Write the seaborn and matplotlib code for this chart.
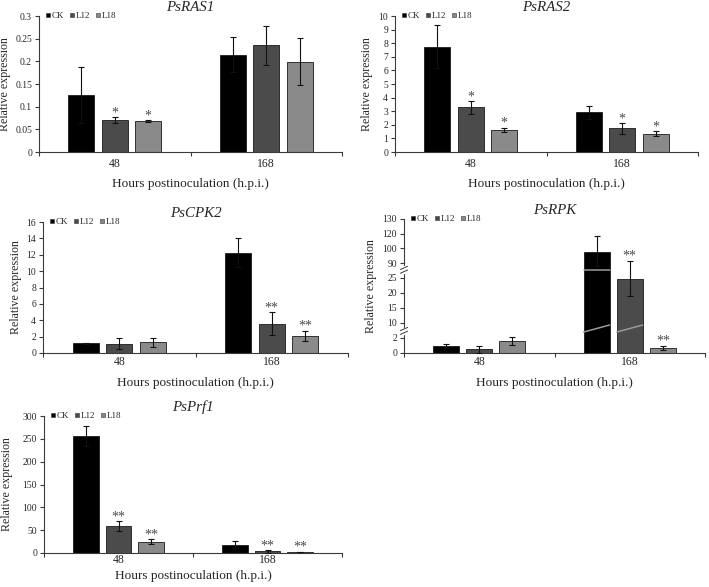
import numpy as np
import pandas as pd
import matplotlib
matplotlib.use("Agg")
import matplotlib.pyplot as plt
from matplotlib.lines import Line2D
import seaborn as sns

# ---------------- data ----------------
TIMES = ["48", "168"]
LINES = ["CK", "L12", "L18"]
COLORS = ["#000000", "#4b4b4b", "#8a8a8a"]

# PsRAS1
ras1_ck = [0.126, 0.215]
ras1_l12 = [0.070, 0.236]
ras1_l18 = [0.068, 0.199]
ras1_err_ck = [0.062, 0.039]
ras1_err_l12 = [0.007, 0.043]
ras1_err_l18 = [0.0015, 0.052]
ras1_sig = [["", ""], ["*", ""], ["*", ""]]

# PsRAS2
ras2_ck = [7.75, 2.92]
ras2_l12 = [3.28, 1.74]
ras2_l18 = [1.62, 1.35]
ras2_err_ck = [1.57, 0.49]
ras2_err_l12 = [0.46, 0.38]
ras2_err_l18 = [0.15, 0.18]
ras2_sig = [["", ""], ["*", "*"], ["*", "*"]]

# PsCPK2
cpk2_ck = [1.2, 12.27]
cpk2_l12 = [1.13, 3.56]
cpk2_l18 = [1.34, 2.1]
cpk2_err_ck = [0.08, 1.74]
cpk2_err_l12 = [0.65, 1.4]
cpk2_err_l18 = [0.55, 0.6]
cpk2_sig = [["", ""], ["", "**"], ["", "**"]]

# PsRPK (broken axis)
rpk_ck = [0.96, 97.5]
rpk_l12 = [0.48, 24.8]
rpk_l18 = [1.56, 0.70]
rpk_err_lo_ck = [0.26, 20.0]
rpk_err_hi_ck = [0.26, 20.0]
rpk_err_lo_l12 = [0.43, 5.7]
rpk_err_hi_l12 = [0.43, 66.8]
rpk_err_lo_l18 = [0.54, 0.3]
rpk_err_hi_l18 = [0.54, 0.22]
rpk_sig = [["", ""], ["", "**"], ["", "**"]]
rpk_ticks = [0, 2, 10, 15, 20, 25, 90, 100, 120, 130]
rpk_tick_pos = [0, 1.05, 2.05, 3.07, 4.08, 5.1, 6.1, 7.1, 8.1, 9.1]

# PsPrf1
prf1_ck = [257, 18.2]
prf1_l12 = [59, 3.6]
prf1_l18 = [24.8, 2.2]
prf1_err_ck = [22, 8]
prf1_err_l12 = [10, 3]
prf1_err_l18 = [5, 1]
prf1_sig = [["", ""], ["**", "**"], ["**", "**"]]

# ---------------- style ----------------
sns.set_theme(style="ticks")
plt.rcParams["font.family"] = ["Liberation Serif", "DejaVu Serif"]
plt.rcParams["axes.edgecolor"] = "#3a3a3a"
plt.rcParams["axes.linewidth"] = 0.8

W, H = 709, 587
fig = plt.figure(figsize=(W / 100, H / 100), dpi=100)


def rect(x0, x1, ytop, ybot):
    return [x0 / W, 1 - ybot / H, (x1 - x0) / W, (ybot - ytop) / H]


def panel(box, title, vals, errs_lo, errs_hi, sig, ylim, yticks,
          ylab_px, tick_pad, xlab_pad, scale=None):
    x0, x1, ytop, ybot = box
    ax = fig.add_axes(rect(x0, x1, ytop, ybot))
    rows = []
    for ln, v in zip(LINES, vals):
        for t, val in zip(TIMES, v):
            rows.append({"time": t, "line": ln, "value": val})
    df = pd.DataFrame(rows)
    sns.barplot(data=df, x="time", y="value", hue="line", order=TIMES,
                hue_order=LINES, palette=COLORS, saturation=1, errorbar=None,
                width=0.66, gap=0.22, edgecolor="#1a1a1a", linewidth=0.6,
                legend=False, ax=ax)
    if scale is not None:
        ax.set_yscale("function", functions=scale)
    bar_containers = list(ax.containers)
    for i, cont in enumerate(bar_containers):
        for j, bar in enumerate(cont):
            x = bar.get_x() + bar.get_width() / 2
            h = bar.get_height()
            ax.errorbar([x], [h], yerr=[[errs_lo[i][j]], [errs_hi[i][j]]],
                        fmt="none", ecolor="#111111", elinewidth=0.8,
                        capsize=2, capthick=0.8, zorder=5)
            if sig[i][j]:
                ax.annotate(sig[i][j], (x, h + errs_hi[i][j]),
                            xytext=(0, -1.5), textcoords="offset points",
                            ha="center", va="bottom", fontsize=10,
                            color="#4a4a4a")
    ax.set_xlim(-0.5, 1.5)
    ax.set_ylim(*ylim)
    ax.set_yticks(yticks)
    ax.set_yticklabels([f"{t:g}" for t in yticks])
    ax.set_xticks([-0.5, 0.5, 1.5], minor=True)
    ax.tick_params(axis="x", which="major", length=0, labelsize=8.5,
                   pad=tick_pad)
    ax.tick_params(axis="x", which="minor", length=3, width=0.8,
                   color="#3a3a3a", direction="out")
    ax.tick_params(axis="y", length=3, width=0.8, color="#3a3a3a",
                   labelsize=6.9, pad=2, direction="out")
    sns.despine(ax=ax)
    ax.set_xlabel("Hours postinoculation (h.p.i.)", fontsize=9.5,
                  labelpad=xlab_pad)
    ax.set_ylabel("Relative expression", fontsize=8.6)
    ax.yaxis.set_label_coords((ylab_px - x0) / (x1 - x0), 0.5)
    ax.set_title(title, fontstyle="italic", fontsize=10.8, pad=3.3)
    handles = [Line2D([], [], marker="s", linestyle="none", markersize=3.4,
                      markerfacecolor=c, markeredgecolor="#333333",
                      markeredgewidth=0.4) for c in COLORS]
    ax.legend(handles, LINES, loc="center left", bbox_to_anchor=(0.02, 1.0),
              ncol=3, frameon=False, fontsize=6.5, handlelength=0.6,
              handletextpad=0.15, columnspacing=0.55, borderpad=0,
              borderaxespad=0)
    return ax, bar_containers


panel((39, 342, 16, 152), "PsRAS1",
      [ras1_ck, ras1_l12, ras1_l18],
      [ras1_err_ck, ras1_err_l12, ras1_err_l18],
      [ras1_err_ck, ras1_err_l12, ras1_err_l18],
      ras1_sig, (0, 0.3), np.round(np.arange(0, 0.31, 0.05), 2),
      ylab_px=11, tick_pad=4, xlab_pad=6)

panel((395, 698, 16, 152), "PsRAS2",
      [ras2_ck, ras2_l12, ras2_l18],
      [ras2_err_ck, ras2_err_l12, ras2_err_l18],
      [ras2_err_ck, ras2_err_l12, ras2_err_l18],
      ras2_sig, (0, 10), np.arange(0, 11, 1),
      ylab_px=373, tick_pad=4, xlab_pad=6)

panel((43, 348, 222, 353), "PsCPK2",
      [cpk2_ck, cpk2_l12, cpk2_l18],
      [cpk2_err_ck, cpk2_err_l12, cpk2_err_l18],
      [cpk2_err_ck, cpk2_err_l12, cpk2_err_l18],
      cpk2_sig, (0, 16), np.arange(0, 17, 2),
      ylab_px=22, tick_pad=2.5, xlab_pad=6)


def fwd(y):
    return np.interp(y, rpk_ticks, rpk_tick_pos)


def inv(y):
    return np.interp(y, rpk_tick_pos, rpk_ticks)


ax_rpk, rpk_bars = panel((404, 705, 219, 353), "PsRPK",
                         [rpk_ck, rpk_l12, rpk_l18],
                         [rpk_err_lo_ck, rpk_err_lo_l12, rpk_err_lo_l18],
                         [rpk_err_hi_ck, rpk_err_hi_l12, rpk_err_hi_l18],
                         rpk_sig, (0, 130), rpk_ticks,
                         ylab_px=377, tick_pad=2.5, xlab_pad=6,
                         scale=(fwd, inv))

# break decorations on the bars and on the y axis
UPPER_BREAK = 61
LOWER_BREAK = (5.0, 8.8)
ck_bar = rpk_bars[0][1]
l12_bar = rpk_bars[1][1]
bx0, bx1 = ck_bar.get_x(), ck_bar.get_x() + ck_bar.get_width()
ax_rpk.plot([bx0, bx1], [UPPER_BREAK, UPPER_BREAK], color="#9a9a9a", lw=1.1,
            zorder=4)
for b in (ck_bar, l12_bar):
    bx0, bx1 = b.get_x(), b.get_x() + b.get_width()
    ax_rpk.plot([bx0, bx1], list(LOWER_BREAK), color="#9a9a9a", lw=1.1,
                zorder=4)
top = fwd(130)
for yb in (UPPER_BREAK, 5.6):
    yf = fwd(yb) / top
    ax_rpk.plot([0, 0], [yf - 0.018, yf + 0.018], transform=ax_rpk.transAxes,
                color="white", lw=2.5, clip_on=False, zorder=6)
    for dy in (-0.014, 0.014):
        ax_rpk.plot([-0.012, 0.012], [yf + dy - 0.012, yf + dy + 0.012],
                    transform=ax_rpk.transAxes, color="#3a3a3a", lw=0.7,
                    clip_on=False, zorder=7)

panel((44, 342, 416, 553), "PsPrf1",
      [prf1_ck, prf1_l12, prf1_l18],
      [prf1_err_ck, prf1_err_l12, prf1_err_l18],
      [prf1_err_ck, prf1_err_l12, prf1_err_l18],
      prf1_sig, (0, 300), np.arange(0, 301, 50),
      ylab_px=13, tick_pad=1, xlab_pad=2.5)

fig.savefig("out.png", dpi=100)
